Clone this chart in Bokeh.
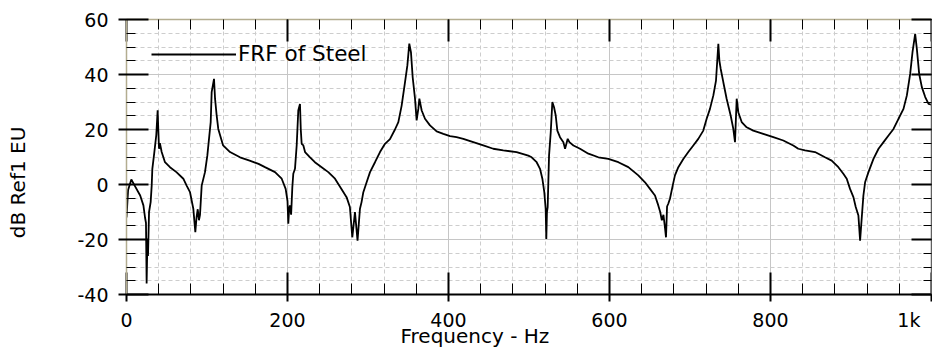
import math
from bokeh.plotting import figure
from bokeh.models import (Range1d, LinearAxis, SingleIntervalTicker, Legend,
                          LegendItem, Title, ColumnDataSource,
                          CustomLabelingPolicy)
from bokeh.embed import file_html
from bokeh.resources import INLINE

# ---- data (frequency in Hz, level in dB Ref1 EU) ----
freq_hz = [
    0, 2, 6, 10, 17, 21, 23, 24.2, 25, 26, 26.7, 28, 30, 31.3, 32.1, 34.6, 37,
    38.7, 39.5, 40.4, 41.5, 43.7, 47.8, 54, 62, 70.6, 74.7, 78.9, 83, 85.5, 87,
    88.5, 90, 91.3, 93.4, 97.5, 100.4, 102.9, 104.6, 105.8, 108.7, 110, 112,
    114, 120, 128.6, 141, 153, 164,
    172, 184.5, 192.8, 197.7, 200, 201, 202, 203, 204.5, 206, 207.2, 209.3,
    211.4, 213.4, 215.5, 216.5, 217.6, 219.7, 221.8, 228, 234, 242.4, 250.7,
    259, 267, 273.4, 277.5, 280.5, 283.8, 287, 290, 292, 294.2, 298.3, 302.5,
    308.7, 314.9, 321.1, 327.3, 333.5,
    337.7, 341.8, 346, 348.9, 351.3, 353.4, 355.5, 358.4, 360.4, 362.5, 363.8,
    366.7, 370.8, 377, 385.3, 393.6, 401.9, 410, 418.4, 430.8, 443.2, 455.6,
    468, 484.6, 499.1,
    503.3, 509.5, 513.7, 516.6, 519, 520.7, 521.5, 522.3, 523.2, 524.9, 527,
    529, 531.1, 533.2, 535.2, 538.5, 542.7, 544.8, 548.1, 550.2, 555.2, 563.4,
    573.8, 586.2, 598.6, 611, 623.4, 635.8, 644.1, 650.3, 656.5, 660.6, 663,
    665, 667, 669, 670.2, 671.5, 673, 675.1, 678.5, 681.3, 685.5, 691.7,
    697.9, 704.1, 710.3, 716.5, 720.7, 724.8, 729, 732.3, 735.2, 736.5, 738.1,
    741.4, 745.5, 750.5, 753.8, 755.9, 758, 760, 764.2, 770.4, 778.6, 791,
    803.5, 815.9, 828.3, 834.5, 842.9, 855.3, 867.7, 876, 884.3, 890.5, 894.7,
    898.8, 903, 905.9, 909.2, 911.3, 913.4, 915.4, 917.5, 921.7, 927.9, 934.2,
    940.4, 946.6, 952.8, 959, 965.2, 969.4, 973.5, 976.4, 979.7, 981.8, 984.7,
    988, 992.2, 996.3, 1000,
]
level_db = [
    -12, -2, 1.8, -0.3, -4, -7.6, -12, -14, -36, -20, -26, -10, -6.4, -0.4,
    5.7, 11.8, 18, 27, 20, 13, 15, 11.8, 8.1, 6.3, 4.5, 2.1, -0.4, -2.8, -8.8,
    -17.3, -12, -9, -13, -11, -0.4, 4.5, 10.5, 17.8, 22.7, 33.6, 38.4, 31.2,
    25.1, 20.2, 14.2, 11.8, 9.9, 8.7, 7.5,
    6.3, 4.5, 2.1, -1.6, -6, -14.3, -9, -7.6, -11, -1, 3.9, 5.7, 14.2, 26.9,
    29.3, 20, 14.8, 14.2, 11.8, 9.9, 8.1, 6.3, 4.5, 2.1, -1.6, -4.6, -8.2,
    -19.2, -10, -20.4, -8.8, -6.4, -2.8, 0.8, 4.5, 8.1, 11.8, 14.8, 16.5, 20,
    22.7, 28.7, 37.2, 43.3, 51.2, 48, 39, 31.2, 23.3, 27.5, 31.2, 26.9, 23.9,
    21.5, 19.3, 18.4, 17.6, 17.2, 16.6, 15.4, 14.2, 13, 12.4, 11.8, 10.5,
    9.9, 8.1, 5.7, 2.1, -2.8, -8.8, -19.8, -10, -8.2, 10.5, 19, 30, 28.1, 25.1,
    19.6, 17.2, 15.4, 13, 16.6, 15.4, 14.2, 13, 11.2, 9.9, 9.3, 8.1, 6.3, 3.3,
    0.8, -1.6, -4, -7.6, -10, -13, -11, -16, -19.2, -8, -7, -5.2, -0.4, 3.3,
    6.3, 9.3, 11.8, 14.2, 16.6, 19.6, 23.9, 27.5, 32.4, 37.8, 51.2, 45, 42.1,
    37.2, 31.2, 25.1, 20.2, 15.4, 31.2, 26.3, 22.7, 20.8, 19.6, 18.4, 17.2,
    16, 14.2, 13, 12.4, 11.8, 9.9, 8.7, 6.3, 3.9, 2.1, -1.6, -4.6, -8.2,
    -11.3, -20.4, -11.9, -4, 0.8, 4.5, 9.3, 13, 15.4, 17.8, 20.2, 23.9, 27.5,
    32.4, 40.2, 48.1, 54.8, 49.3, 40.2, 35.4, 31.8, 29.3, 29,
]
series_name = "FRF of Steel"
x_label = "Frequency - Hz"
y_label = "dB Ref1 EU"
NB = "\u00a0"
x_tick_overrides = {1000: "1k" + NB * 2}
y_tick_overrides = {-20: "-20", -40: "-40"}

FONT = "DejaVu Sans"

p = figure(width=932, height=353,
           x_range=Range1d(0, 1000), y_range=Range1d(-40, 60),
           output_backend="svg", toolbar_location=None,
           min_border_left=126, min_border_right=1,
           min_border_top=19, min_border_bottom=59)
p.outline_line_color = None
p.background_fill_color = "white"

xt = SingleIntervalTicker(interval=200, num_minor_ticks=5)
yt = SingleIntervalTicker(interval=20, num_minor_ticks=4)

# bottom axis
xa = p.xaxis[0]
xa.ticker = xt
xa.major_label_overrides = x_tick_overrides
xa.axis_line_color = "black"
xa.axis_line_width = 2
xa.major_tick_in = 22
xa.major_tick_out = 7
xa.major_tick_line_width = 2
xa.minor_tick_in = 11
xa.minor_tick_out = 0
xa.minor_tick_line_width = 1
xa.major_label_standoff = 7
xa.major_label_text_font = FONT
xa.major_label_text_font_size = "19px"
xa.major_label_text_color = "black"

# left axis
ya = p.yaxis[0]
ya.ticker = yt
ya.major_label_overrides = y_tick_overrides
ya.axis_line_color = "#b3ad90"
ya.axis_line_width = 1.5
ya.major_tick_in = 22
ya.major_tick_out = 8
ya.major_tick_line_width = 2
ya.minor_tick_in = 9
ya.minor_tick_out = 0
ya.minor_tick_line_width = 1
ya.major_label_standoff = 10
ya.major_label_text_font = FONT
ya.major_label_text_font_size = "19px"
ya.major_label_text_color = "black"
ya.axis_label = y_label + NB * 8
ya.axis_label_standoff = 44
ya.axis_label_text_font = FONT
ya.axis_label_text_font_size = "20px"
ya.axis_label_text_font_style = "normal"
ya.axis_label_text_color = "black"

# top & right axes: ticks only, no labels
no_labels = CustomLabelingPolicy(code="return []")
top = LinearAxis(ticker=xt, axis_line_color="#b3ad90", axis_line_width=1.5,
                 major_tick_in=22, major_tick_out=0, major_tick_line_width=2,
                 minor_tick_in=10, minor_tick_out=0, minor_tick_line_width=1,
                 major_label_standoff=0, major_label_text_font_size="0px",
                 major_label_policy=no_labels)
right = LinearAxis(ticker=yt, axis_line_color="#606060", axis_line_width=1.5,
                   major_tick_in=20, major_tick_out=0, major_tick_line_width=2,
                   minor_tick_in=8, minor_tick_out=0, minor_tick_line_width=1,
                   major_label_standoff=0, major_label_text_font_size="0px",
                   major_label_policy=no_labels)
p.add_layout(top, "above")
p.add_layout(right, "right")

# grids
for g, t in ((p.xgrid[0], xt), (p.ygrid[0], yt)):
    g.ticker = t
    g.grid_line_color = "#c6c6c6"
    g.grid_line_width = 1
    g.minor_grid_line_color = "#cdcdcd"
    g.minor_grid_line_dash = "4 3"
    g.minor_grid_line_width = 1

src = ColumnDataSource(data=dict(f=freq_hz, db=level_db))
r = p.line("f", "db", source=src, line_color="black", line_width=1.8)

legend = Legend(items=[LegendItem(label=series_name, renderers=[r])],
                location=(25, 228), glyph_width=85, glyph_height=20,
                label_standoff=2, padding=0, margin=0, spacing=0,
                background_fill_alpha=0, border_line_color=None,
                label_text_font=FONT, label_text_font_size="21.5px",
                label_text_color="black", label_height=20)
p.add_layout(legend)

xtitle = Title(text=x_label, align="left", offset=274, vertical_align="top",
               standoff=-20, text_font=FONT, text_font_size="20px",
               text_font_style="normal", text_color="black")
p.add_layout(xtitle, "below")

open("out.html", "w").write(file_html(p, INLINE))
